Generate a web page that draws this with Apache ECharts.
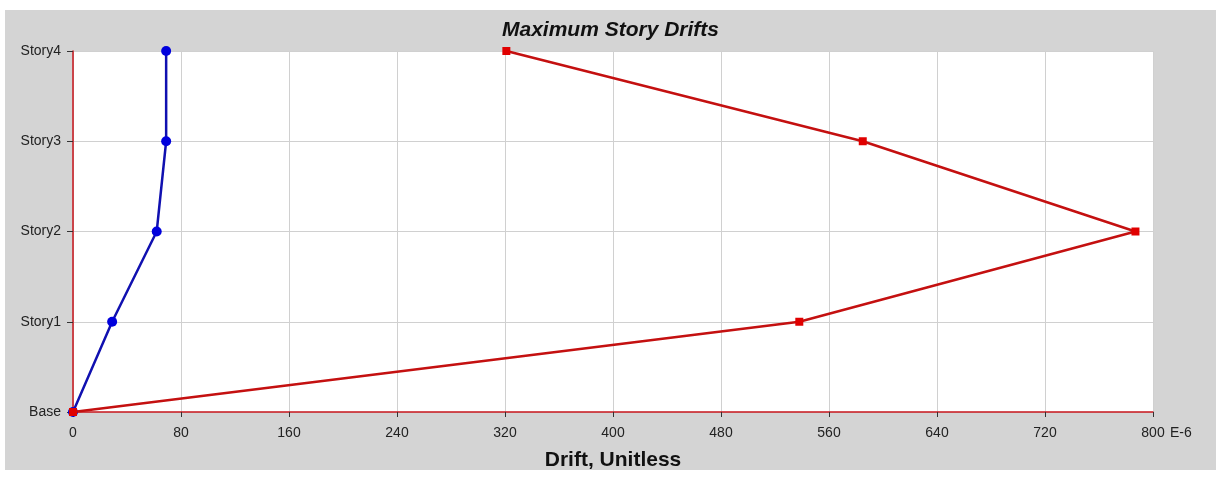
<!DOCTYPE html>
<html>
<head>
<meta charset="utf-8">
<title>Maximum Story Drifts</title>
<script src="https://cdn.jsdelivr.net/npm/echarts@6/dist/echarts.min.js"></script>
<style>
  html, body { margin: 0; padding: 0; background: #fff; }
  #chart { width: 1221px; height: 478px; }
</style>
</head>
<body>
<div id="chart"></div>
<script>
// story levels, bottom to top
const stories = ['Base', 'Story1', 'Story2', 'Story3', 'Story4'];
// drift values (E-6)
const driftBlue = [0, 29, 62, 69, 69];
const driftRed = [0, 538, 787, 585, 321];
// x axis range / step
const xMin = 0;
const xMax = 800;
const xStep = 80;

const toPairs = (vals) => vals.map((v, i) => [v, stories[i]]);

const chart = echarts.init(document.getElementById('chart'));

const option = {
  backgroundColor: '#ffffff',
  animation: false,
  graphic: [
    {
      type: 'rect',
      z: -10,
      shape: { x: 5, y: 10, width: 1211, height: 460 },
      style: { fill: '#d4d4d4' }
    },
    {
      type: 'text',
      left: 1170,
      top: 426,
      style: { text: 'E-6', font: '14px "Liberation Sans", Arial, sans-serif', fill: '#222' }
    }
  ],
  title: {
    text: 'Maximum Story Drifts',
    left: 'center',
    top: 15,
    textStyle: {
      fontFamily: '"Liberation Sans", Arial, sans-serif',
      fontSize: 21,
      fontWeight: 'bold',
      fontStyle: 'italic',
      color: '#111'
    }
  },
  grid: { left: 73, top: 51, width: 1080, height: 361, backgroundColor: '#ffffff', show: true, borderWidth: 0 },
  xAxis: {
    type: 'value',
    min: xMin,
    max: xMax,
    interval: xStep,
    name: 'Drift, Unitless',
    nameLocation: 'middle',
    nameGap: 38,
    nameTextStyle: {
      fontFamily: '"Liberation Sans", Arial, sans-serif',
      fontSize: 21,
      fontWeight: 'bold',
      color: '#111'
    },
    axisLine: { show: true, lineStyle: { color: '#c8161d', width: 1.5 } },
    axisTick: { show: true, length: 5, lineStyle: { color: '#333' } },
    axisLabel: {
      margin: 14,
      fontFamily: '"Liberation Sans", Arial, sans-serif',
      fontSize: 14,
      color: '#222'
    },
    splitLine: { show: true, lineStyle: { color: '#d0d0d0', width: 1 } }
  },
  yAxis: {
    type: 'category',
    data: stories,
    boundaryGap: false,
    axisLine: { show: true, lineStyle: { color: '#c8161d', width: 1.5 } },
    axisTick: { show: true, length: 6, lineStyle: { color: '#333' } },
    axisLabel: {
      margin: 12,
      fontFamily: '"Liberation Sans", Arial, sans-serif',
      fontSize: 14,
      color: '#222'
    },
    splitLine: { show: true, lineStyle: { color: '#d0d0d0', width: 1 } }
  },
  series: [
    {
      name: 'Blue',
      type: 'line',
      data: toPairs(driftBlue),
      symbol: 'circle',
      symbolSize: 10,
      lineStyle: { color: '#1010b0', width: 2.5 },
      itemStyle: { color: '#0000dd' },
      z: 2
    },
    {
      name: 'Red',
      type: 'line',
      data: toPairs(driftRed),
      symbol: 'rect',
      symbolSize: 8,
      lineStyle: { color: '#c41010', width: 2.5 },
      itemStyle: { color: '#e00000' },
      z: 3
    }
  ]
};

chart.setOption(option);
</script>
</body>
</html>
